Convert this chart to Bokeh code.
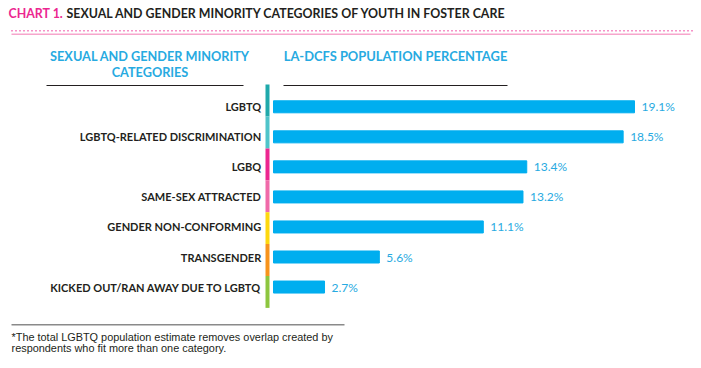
from bokeh.plotting import figure
from bokeh.models import Range1d
from bokeh.core.properties import value
from bokeh.embed import file_html
from bokeh.resources import INLINE

# ---- data ----
categories = ["LGBTQ", "LGBTQ-RELATED DISCRIMINATION", "LGBQ", "SAME-SEX ATTRACTED",
              "GENDER NON-CONFORMING", "TRANSGENDER", "KICKED OUT/RAN AWAY DUE TO LGBTQ"]
percentages = [19.1, 18.5, 13.4, 13.2, 11.1, 5.6, 2.7]
value_labels = ["19.1%", "18.5%", "13.4%", "13.2%", "11.1%", "5.6%", "2.7%"]
marker_colors = ["#1fa9ab", "#4fc4ca", "#ec2690", "#f06aa9", "#fdd80f", "#f7941d", "#8dc63f"]

title_lead = "CHART 1."
title_rest = "SEXUAL AND GENDER MINORITY CATEGORIES OF YOUTH IN FOSTER CARE"
header_left = ["SEXUAL AND GENDER MINORITY", "CATEGORIES"]
header_right = "LA-DCFS POPULATION PERCENTAGE"
footnote = ["*The total LGBTQ population estimate removes overlap created by",
            "respondents who fit more than one category."]

W, H = 701, 368
PX_PER_PCT = 18.9
ZERO_X = 273          # pixel of 0%
ROW_PX = 30.04
ROW0_Y = 106.3        # pixel of first row centre

p = figure(width=W, height=H, output_backend="svg", toolbar_location=None,
           x_range=Range1d(-ZERO_X / PX_PER_PCT, (W - ZERO_X) / PX_PER_PCT),
           y_range=Range1d((H - ROW0_Y) / ROW_PX, -ROW0_Y / ROW_PX),
           min_border=0, x_axis_location=None, y_axis_location=None)
p.grid.visible = False
p.outline_line_color = None
p.background_fill_color = "white"
# pixel coordinate ranges for decorations
p.extra_x_ranges = {"px": Range1d(0, W)}
p.extra_y_ranges = {"py": Range1d(H, 0)}

idx = list(range(len(categories)))
n = len(categories)

# bars
p.hbar(y=idx, left=0, right=percentages, height=0.4, color="#00aeef")

# value labels
p.text(x=percentages, y=idx, text=value_labels, x_offset=7,
       text_font=value("Lato"), text_font_size="12px", text_color="#27aae1",
       text_align="left", text_baseline="middle")

# category labels
p.text(x=[260.7] * n, y=idx, text=categories, x_range_name="px",
       text_font=value("Lato"), text_font_style="bold", text_font_size="11px",
       text_color="#231f20", text_align="right", text_baseline="middle")

# coloured category marker strip
k = 1.062
centers = [3 + (i - 3) * k - 0.023 for i in idx]
p.quad(left=[265] * n, right=[269] * n, x_range_name="px",
       top=[c - k / 2 for c in centers], bottom=[c + k / 2 for c in centers],
       fill_color=marker_colors, line_color=None)

# title
p.text(x=[8], y=[12.5], text=[title_lead], x_range_name="px", y_range_name="py",
       text_font=value("Lato"), text_font_style="bold", text_font_size="12.4px",
       text_color="#ec2690", text_align="left", text_baseline="middle")
p.text(x=[66], y=[12.5], text=[title_rest], x_range_name="px", y_range_name="py",
       text_font=value("Lato"), text_font_style="bold", text_font_size="12.4px",
       text_color="#231f20", text_align="left", text_baseline="middle")

# pink rules
p.line(x=[11, 692], y=[30.3, 30.3], x_range_name="px", y_range_name="py",
       line_color="#ec2690", line_width=1.4, line_dash="1 3")
p.line(x=[11, 690], y=[33.7, 33.7], x_range_name="px", y_range_name="py",
       line_color="#f6a6cc", line_width=1.5)

# column headers
p.text(x=[149.5, 149.5], y=[55, 71], text=header_left, x_range_name="px", y_range_name="py",
       text_font=value("Lato"), text_font_style="bold", text_font_size="12.7px",
       text_color="#27aae1", text_align="center", text_baseline="middle")
p.text(x=[395], y=[55], text=[header_right], x_range_name="px", y_range_name="py",
       text_font=value("Lato"), text_font_style="bold", text_font_size="12.9px",
       text_color="#27aae1", text_align="center", text_baseline="middle")
p.segment(x0=[46, 283], x1=[243, 507], y0=[85, 85], y1=[85, 85],
          x_range_name="px", y_range_name="py", line_color="#231f20", line_width=1)

# footnote
p.line(x=[11, 344], y=[324.2, 324.2], x_range_name="px", y_range_name="py",
       line_color="#8a8a8a", line_width=1.4)
p.text(x=[11, 11], y=[336, 347.5], text=footnote, x_range_name="px", y_range_name="py",
       text_font=value("Liberation Sans"), text_font_size="10.9px",
       text_color="#231f20", text_align="left", text_baseline="middle",
       text_line_height=1.0)

open("out.html", "w").write(file_html(p, INLINE))
